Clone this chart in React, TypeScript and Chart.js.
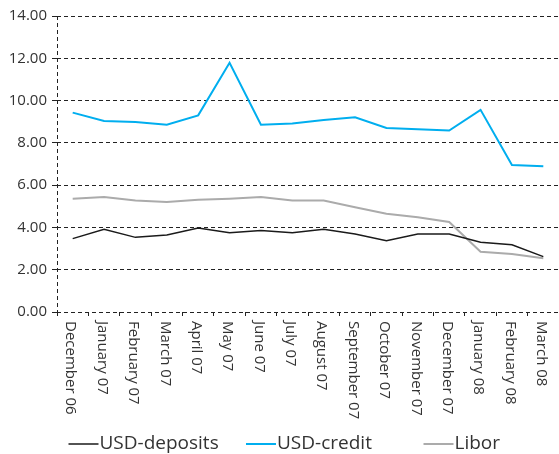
import React, { useEffect, useRef } from "react";
import { Chart, registerables } from "chart.js";

Chart.register(...registerables);

const categories = [
  "December 06", "January 07", "February 07", "March 07", "April 07", "May 07",
  "June 07", "July 07", "August 07", "September 07", "October 07", "November 07",
  "December 07", "January 08", "February 08", "March 08",
];

const usdDeposits = [3.47, 3.91, 3.53, 3.64, 3.97, 3.75, 3.86, 3.75, 3.91, 3.69, 3.37, 3.69, 3.69, 3.30, 3.18, 2.62];
const usdCredit = [9.43, 9.03, 8.99, 8.86, 9.30, 11.79, 8.86, 8.91, 9.08, 9.21, 8.70, 8.64, 8.58, 9.56, 6.95, 6.89];
const libor = [5.36, 5.44, 5.27, 5.20, 5.31, 5.36, 5.44, 5.27, 5.27, 4.95, 4.65, 4.48, 4.26, 2.85, 2.74, 2.54];

const seriesNames = ["USD-deposits", "USD-credit", "Libor"];
const seriesColors = ["#1a1a1a", "#00aeef", "#ababab"];

const Y_MIN = 0;
const Y_MAX = 14;
const Y_STEP = 2;

const FONT = "'Open Sans', sans-serif";
const TEXT = "#333333";
const GRID = "#222222";

const customPlugin = {
  id: "customDraw",
  afterDraw(chart: any) {
    const { ctx, chartArea, scales } = chart;
    const xs = scales.x;
    ctx.save();
    // dashed vertical axis line
    ctx.strokeStyle = GRID;
    ctx.lineWidth = 1;
    ctx.setLineDash([4, 3]);
    ctx.beginPath();
    const ax = Math.round(chartArea.left) + 0.5;
    ctx.moveTo(ax, chartArea.top);
    ctx.lineTo(ax, chartArea.bottom + 4);
    ctx.stroke();
    ctx.setLineDash([]);

    // rotated category labels (reading top to bottom)
    ctx.fillStyle = TEXT;
    ctx.font = `15px ${FONT}`;
    ctx.textAlign = "left";
    ctx.textBaseline = "middle";
    categories.forEach((c, i) => {
      const px = xs.getPixelForValue(i);
      ctx.save();
      ctx.translate(px - 2, chartArea.bottom + 9);
      ctx.rotate(Math.PI / 2);
      ctx.fillText(c, 0, 0);
      ctx.restore();
    });

    // legend
    const ly = 444;
    const start = chart.width / 2 - 211;
    const slot = 177.5;
    ctx.font = `19px ${FONT}`;
    ctx.textBaseline = "middle";
    seriesNames.forEach((name, i) => {
      const x0 = start + i * slot;
      ctx.strokeStyle = seriesColors[i];
      ctx.lineWidth = i === 0 ? 1.5 : 2;
      ctx.beginPath();
      ctx.moveTo(x0, ly);
      ctx.lineTo(x0 + 30, ly);
      ctx.stroke();
      ctx.fillStyle = TEXT;
      ctx.fillText(name, x0 + 31, ly);
    });
    ctx.restore();
  },
};

export default function App() {
  const ref = useRef<HTMLCanvasElement | null>(null);

  useEffect(() => {
    if (!ref.current) return;
    const chart = new Chart(ref.current, {
      type: "line",
      data: {
        labels: categories,
        datasets: [
          { label: seriesNames[0], data: usdDeposits, borderColor: seriesColors[0], backgroundColor: seriesColors[0], borderWidth: 1.5 },
          { label: seriesNames[1], data: usdCredit, borderColor: seriesColors[1], backgroundColor: seriesColors[1], borderWidth: 2 },
          { label: seriesNames[2], data: libor, borderColor: seriesColors[2], backgroundColor: seriesColors[2], borderWidth: 2 },
        ],
      },
      options: {
        animation: false,
        responsive: true,
        maintainAspectRatio: false,
        layout: { padding: { top: 16, left: 0, right: 0, bottom: 0 } },
        elements: { point: { radius: 0, hoverRadius: 0 }, line: { tension: 0 } },
        plugins: { legend: { display: false }, tooltip: { enabled: false } },
        scales: {
          x: {
            type: "category",
            offset: true,
            grid: {
              display: true,
              offset: true,
              drawOnChartArea: false,
              drawTicks: true,
              tickLength: 4,
              tickColor: GRID,
              tickWidth: 1,
            },
            border: { display: false },
            ticks: { display: false },
            afterFit: (scale: any) => {
              scale.height = 142;
            },
          },
          y: {
            min: Y_MIN,
            max: Y_MAX,
            grid: {
              color: GRID,
              lineWidth: 1,
              drawTicks: true,
              tickLength: 5,
              tickColor: GRID,
            },
            border: { display: false, dash: [4, 3] },
            ticks: {
              stepSize: Y_STEP,
              padding: 5,
              color: TEXT,
              font: { family: FONT, size: 15 },
              callback: (v: any) => Number(v).toFixed(2),
            },
            afterFit: (scale: any) => {
              scale.width = 57;
            },
          },
        },
      },
      plugins: [customPlugin],
    });
    return () => chart.destroy();
  }, []);

  return (
    <div style={{ position: "fixed", left: 0, top: 0, width: 559, height: 454, background: "#fff" }}>
      <canvas ref={ref} />
    </div>
  );
}
